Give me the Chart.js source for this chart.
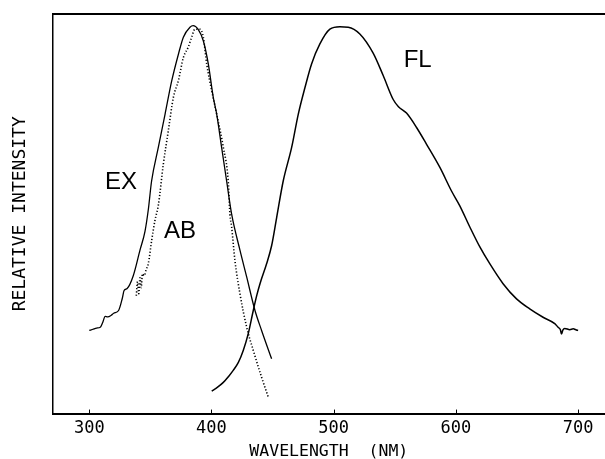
<!DOCTYPE html>
<html>
<head>
<meta charset="utf-8">
<script src="https://cdn.jsdelivr.net/npm/chart.js@4.4.0/dist/chart.umd.min.js"></script>
<style>
  html, body { margin: 0; padding: 0; background: #fff; }
</style>
</head>
<body>
<canvas id="spectra" width="605" height="459"></canvas>
<script>
// excitation spectrum (solid)
var exWavelength = [300, 303, 306, 309, 311, 313, 315, 318, 320, 324, 327, 328.5, 331, 336, 341.5, 345.6, 348.3, 351, 356.5, 362, 367.5, 373, 377, 382.4, 385, 389, 393.3, 397.4, 401.5, 404.3, 408.3, 412.4, 416.5, 423.3, 428.8, 435.6, 441, 449.2];
var exIntensity = [20.8, 21.1, 21.4, 21.6, 22.8, 24.3, 24.2, 24.6, 25.1, 25.8, 28.8, 30.8, 31.3, 34.5, 40.9, 45.6, 51, 58.2, 66.6, 74.9, 83.3, 90, 94.2, 96.7, 97.1, 96.2, 93.3, 87.5, 79.1, 74.9, 66.6, 58.2, 49.9, 40.9, 34.2, 25.8, 20.8, 13.7];

// absorption spectrum (dotted)
var abWavelength = [338.5, 339.5, 340.5, 341.5, 342.5, 343.5, 345, 346.5, 348.3, 351.1, 353.8, 356.5, 360.6, 364.7, 368.8, 372.9, 377, 381, 383.8, 386.5, 390.6, 393.3, 396.1, 400.2, 404.3, 409.7, 413.7, 415.1, 416.5, 419.2, 423.3, 428.8, 434.2, 441, 446.5];
var abIntensity = [29.5, 33, 30, 34, 31.5, 35, 34.5, 36, 37.5, 43.4, 48.4, 52.1, 62.4, 70.8, 79.1, 83.3, 89.1, 91.7, 94.2, 96.2, 96.2, 94.2, 87.5, 80.8, 74.9, 66.6, 58.2, 49.9, 46.7, 38.3, 30, 21.6, 15.8, 9.1, 4.1];

// fluorescence spectrum (solid)
var flWavelength = [400.2, 405, 409.7, 414, 417.8, 422, 426, 430.1, 434.2, 437, 439.7, 445.1, 449.2, 453.3, 458.7, 465.6, 471, 476.5, 481.9, 488.7, 496.9, 505.1, 511.9, 521.4, 532.3, 540.5, 548.7, 553, 559.6, 567.8, 576, 586.9, 596.4, 603.2, 611.4, 619.6, 627.7, 638.6, 649.6, 660.4, 671.3, 680.9, 683.6, 685.5, 686.4, 687.5, 689.1, 693.2, 696, 698.6, 700];
var flIntensity = [5.6, 6.6, 7.8, 9.3, 10.8, 12.8, 15.8, 20, 25.8, 29.5, 32.5, 37.5, 42, 49, 58.2, 66.6, 74.9, 81.6, 87.5, 92.5, 96.2, 96.8, 96.7, 95, 90.2, 84.6, 78.6, 76.8, 75.2, 71.6, 67.4, 61.6, 55.7, 52, 46.7, 41.7, 37.5, 32.5, 28.7, 26.2, 24.1, 22.5, 21.6, 21.0, 19.9, 20.9, 21.3, 21.0, 21.2, 20.9, 20.8];

var xTicks = [300, 400, 500, 600, 700];

// curve labels, placed in data units
var curveNames = ["EX", "AB", "FL"];
var curveNameX = [326, 374.3, 568.7];
var curveNameY = [57.9, 45.6, 88.5];

function toPoints(xs, ys) {
    var pts = [];
    for (var i = 0; i < xs.length; i++) {
        pts.push({x: xs[i], y: ys[i]});
    }
    return pts;
}

var monoFont = "'DejaVu Sans Mono', monospace";

// top frame line, inward tick marks and the EX/AB/FL names
var decorations = {
    id: "decorations",
    afterDraw: function(chart) {
        var ctx = chart.ctx;
        var area = chart.chartArea;
        var xs = chart.scales.x;
        var ys = chart.scales.y;
        ctx.save();
        ctx.strokeStyle = "#000";
        ctx.lineWidth = 2;
        ctx.beginPath();
        ctx.moveTo(area.left, area.top);
        ctx.lineTo(area.right, area.top);
        ctx.stroke();

        ctx.lineWidth = 1;
        xTicks.forEach(function(v) {
            var px = Math.round(xs.getPixelForValue(v)) + 0.5;
            ctx.beginPath();
            ctx.moveTo(px, area.bottom - 4);
            ctx.lineTo(px, area.bottom + 1);
            ctx.stroke();
        });

        ctx.fillStyle = "#000";
        ctx.font = "24px 'Liberation Sans', Arial, sans-serif";
        ctx.textAlign = "center";
        ctx.textBaseline = "middle";
        for (var i = 0; i < curveNames.length; i++) {
            ctx.fillText(curveNames[i], xs.getPixelForValue(curveNameX[i]), ys.getPixelForValue(curveNameY[i]));
        }
        ctx.restore();
    }
};

var ctx = document.getElementById("spectra").getContext("2d");
var spectraChart = new Chart(ctx, {
    type: "line",
    data: {
        datasets: [
            {
                label: "EX",
                data: toPoints(exWavelength, exIntensity),
                borderColor: "#000",
                borderWidth: 1.3,
                pointRadius: 0,
                cubicInterpolationMode: "monotone"
            },
            {
                label: "AB",
                data: toPoints(abWavelength, abIntensity),
                borderColor: "#000",
                borderWidth: 1.6,
                borderDash: [1.2, 2],
                pointRadius: 0,
                cubicInterpolationMode: "monotone"
            },
            {
                label: "FL",
                data: toPoints(flWavelength, flIntensity),
                borderColor: "#000",
                borderWidth: 1.5,
                pointRadius: 0,
                cubicInterpolationMode: "monotone"
            }
        ]
    },
    options: {
        responsive: false,
        animation: false,
        layout: {padding: {top: 14, left: 0, right: 0, bottom: 0}},
        plugins: {
            legend: {display: false},
            tooltip: {enabled: false}
        },
        scales: {
            x: {
                type: "linear",
                min: 270,
                max: 722,
                afterBuildTicks: function(axis) {
                    axis.ticks = xTicks.map(function(v) { return {value: v}; });
                },
                ticks: {
                    color: "#000",
                    padding: 7,
                    font: {family: monoFont, size: 17, lineHeight: 1}
                },
                grid: {display: false, drawTicks: false},
                border: {display: true, color: "#000", width: 2},
                title: {
                    display: true,
                    text: "WAVELENGTH  (NM)",
                    color: "#000",
                    font: {family: monoFont, size: 16.5, lineHeight: 0.875},
                    padding: {top: 0, bottom: 0}
                }
            },
            y: {
                type: "linear",
                min: 0,
                max: 100,
                ticks: {display: false},
                grid: {display: false, drawTicks: false},
                border: {display: true, color: "#000", width: 1.5},
                title: {
                    display: true,
                    text: "RELATIVE INTENSITY",
                    color: "#000",
                    font: {family: monoFont, size: 18, lineHeight: 1.2},
                    padding: {top: 10, bottom: 21}
                }
            }
        }
    },
    plugins: [decorations]
});
</script>
</body>
</html>
